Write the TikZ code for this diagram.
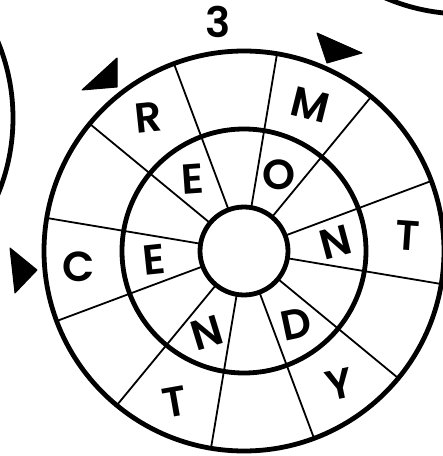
\documentclass[tikz,border=0pt]{standalone}
\usepackage{fontspec}
\setmainfont{Poppins}
\newfontfamily\lfont{Poppins SemiBold}
\usetikzlibrary{calc}
\tikzset{
  ring/.style={line width=4.8pt},
  spoke/.style={line width=1.8pt},
  ltr/.style={font=\fontsize{42}{42}\lfont, inner sep=0pt},
  tri/.style={fill=black, draw=black, line width=1pt, line join=round},
}
\begin{document}
\begin{tikzpicture}[x=1pt,y=1pt]
\clip (0,0) rectangle (443,456);
\fill[white] (0,0) rectangle (443,456);
\coordinate (c) at (244,205);
% neighbouring puzzles
\coordinate (lc) at (-187,338);
\coordinate (rc) at (464,642);
\draw[ring] (lc) circle (200);
\draw[ring] (rc) circle (200);
% spokes
\foreach \a in {20.5,50.5,...,350.5}
  \draw[spoke] ($(c)+(\a:44)$) -- ($(c)+(\a:200)$);
% rings
\draw[ring] (c) circle (200);
\draw[ring] (c) circle (122);
\draw[ring] (c) circle (44);
% arrows
\fill[tri] (82,366) -- (117,398) -- (117,369) -- cycle;
\fill[tri] (317,423) -- (362,403) -- (327,393) -- cycle;
\fill[tri] (10,208) -- (37,186) -- (15,163) -- cycle;
% number
\node[ltr] (num) at (218,434) {3};
% outer letters
\node[ltr, rotate=6]   (o1) at ($(c)+(125.5:164)$) {R};
\node[ltr, rotate=-14] (o2) at ($(c)+(65.5:161)$) {M};
\node[ltr, rotate=-4]  (o3) at ($(c)+(5.5:164)$) {T};
\node[ltr, rotate=12]  (o4) at ($(c)+(-54.5:164)$) {Y};
\node[ltr, rotate=10]  (o5) at ($(c)+(-114.5:166)$) {T};
\node[ltr]             (o6) at ($(c)+(185.5:166)$) {C};
% inner letters
\node[ltr, rotate=4]   (i1) at ($(c)+(125.5:88)$) {E};
\node[ltr]             (i2) at ($(c)+(65.5:84)$) {O};
\node[ltr, rotate=15]  (i3) at ($(c)+(5.5:92)$) {N};
\node[ltr, rotate=12]  (i4) at ($(c)+(-54.5:90)$) {D};
\node[ltr, rotate=17]  (i5) at ($(c)+(-114.5:90)$) {N};
\node[ltr, rotate=6]   (i6) at ($(c)+(185.5:90)$) {E};
\end{tikzpicture}
\end{document}
